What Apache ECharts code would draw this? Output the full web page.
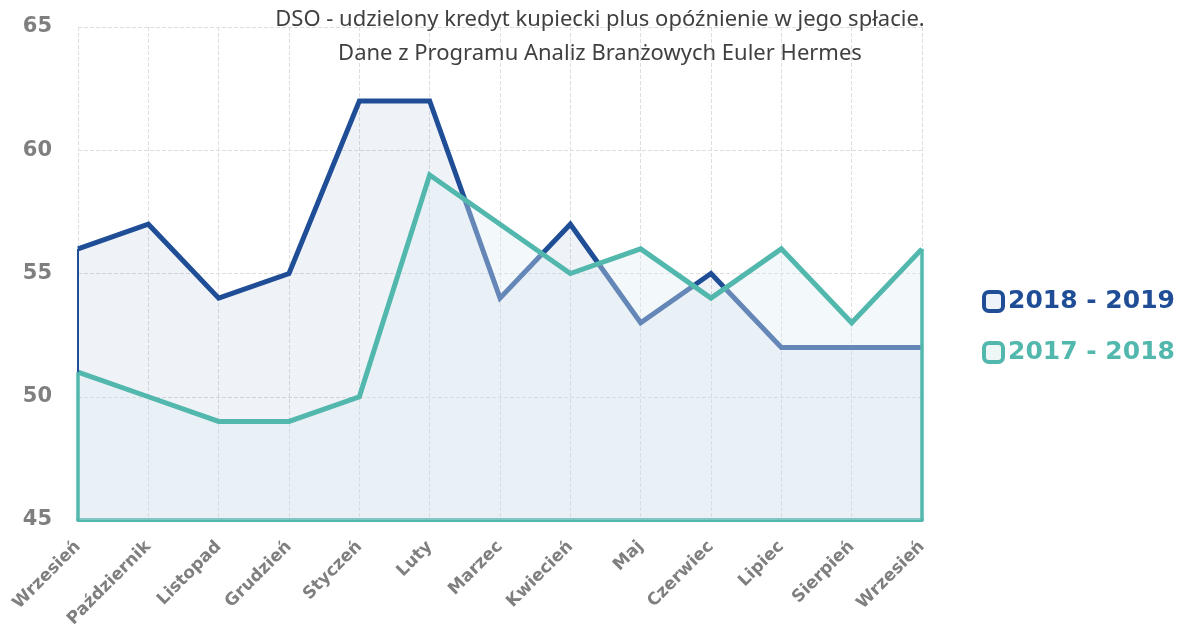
<!DOCTYPE html>
<html>
<head>
<meta charset="utf-8">
<script src="https://cdn.jsdelivr.net/npm/echarts@6/dist/echarts.min.js"></script>
<style>
html, body { margin: 0; padding: 0; background: #fff; }
#chart { width: 1178px; height: 627px; }
</style>
</head>
<body>
<div id="chart"></div>
<script>
var months = ['Wrzesień', 'Październik', 'Listopad', 'Grudzień', 'Styczeń', 'Luty', 'Marzec',
	'Kwiecień', 'Maj', 'Czerwiec', 'Lipiec', 'Sierpień', 'Wrzesień'];
var dso2018 = [56, 57, 54, 55, 62, 62, 54, 57, 53, 55, 52, 52, 52];
var dso2017 = [51, 50, 49, 49, 50, 59, 57, 55, 56, 54, 56, 53, 56];
var seriesNames = ['2018 - 2019', '2017 - 2018'];
var yMin = 45, yMax = 65, yStep = 5;

var blue = '#1f4e96';
var teal = '#52b8ad';
var last = months.length - 1;

var myChart = echarts.init(document.getElementById('chart'));
var option = {
	animation: false,
	title: {
		text: 'DSO - udzielony kredyt kupiecki plus opóźnienie w jego spłacie.\nDane z Programu Analiz Branżowych Euler Hermes',
		left: 595,
		top: -2,
		textAlign: 'center',
		textStyle: {
			fontFamily: 'Noto Sans',
			fontSize: 22,
			fontWeight: 'normal',
			color: '#404040',
			lineHeight: 34
		}
	},
	legend: {
		orient: 'vertical',
		left: 977,
		top: 284,
		itemWidth: 19,
		itemHeight: 19,
		itemGap: 26,
		icon: 'roundRect',
		data: [{
			name: seriesNames[0],
			itemStyle: { color: '#eef2f9', borderColor: blue, borderWidth: 4 },
			textStyle: { color: blue }
		}, {
			name: seriesNames[1],
			itemStyle: { color: '#eef6f6', borderColor: teal, borderWidth: 4 },
			textStyle: { color: teal }
		}],
		textStyle: {
			fontFamily: 'DejaVu Sans',
			fontWeight: 'bold',
			fontSize: 25
		}
	},
	grid: {
		left: 78,
		right: 256,
		top: 27,
		bottom: 107,
		containLabel: false,
		outerBoundsMode: 'none'
	},
	xAxis: {
		type: 'category',
		data: months,
		boundaryGap: false,
		axisLine: {
			lineStyle: { color: teal, width: 4 }
		},
		axisTick: { show: false },
		splitLine: {
			show: true,
			lineStyle: { color: '#dedede', type: 'dashed', width: 1 }
		},
		axisLabel: {
			interval: 0,
			rotate: 45,
			margin: 24,
			color: '#7f7f7f',
			fontFamily: 'DejaVu Sans',
			fontWeight: 'bold',
			fontSize: 17
		}
	},
	yAxis: {
		type: 'value',
		min: yMin,
		max: yMax,
		interval: yStep,
		axisLine: { show: false },
		axisTick: { show: false },
		splitLine: {
			lineStyle: { color: '#dedede', type: 'dashed', width: 1 }
		},
		axisLabel: {
			margin: 26,
			color: '#7f7f7f',
			fontFamily: 'DejaVu Sans',
			fontWeight: 'bold',
			fontSize: 21
		}
	},
	series: [{
		name: seriesNames[0],
		type: 'line',
		z: 2,
		data: dso2018,
		showSymbol: false,
		color: blue,
		lineStyle: { color: blue, width: 5, join: 'miter' },
		areaStyle: { color: 'rgba(31,78,150,0.1)' },
		markLine: {
			silent: true,
			symbol: 'none',
			label: { show: false },
			lineStyle: { color: blue, width: 2, type: 'solid' },
			data: [
				[{ coord: [0, dso2018[0]] }, { coord: [0, yMin] }]
			]
		}
	}, {
		name: seriesNames[1],
		type: 'line',
		z: 3,
		data: dso2017,
		showSymbol: false,
		color: teal,
		lineStyle: { color: teal, width: 5, join: 'miter' },
		areaStyle: { color: 'rgba(222,237,241,0.52)' },
		markLine: {
			silent: true,
			symbol: 'none',
			label: { show: false },
			lineStyle: { color: teal, width: 3.5, type: 'solid' },
			data: [
				[{ coord: [0, dso2017[0]] }, { coord: [0, yMin] }],
				[{ coord: [last, dso2017[last]] }, { coord: [last, yMin] }]
			]
		}
	}]
};
myChart.setOption(option);
</script>
</body>
</html>
